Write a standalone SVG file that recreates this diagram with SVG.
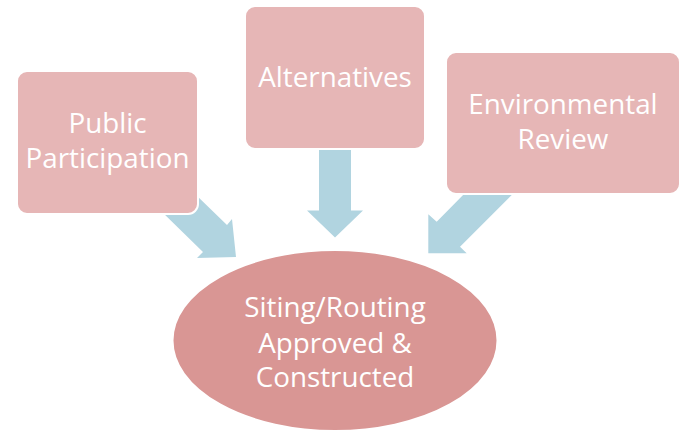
<svg xmlns="http://www.w3.org/2000/svg" width="682" height="437" viewBox="0 0 682 437">
  <style>
    .box { fill: #E6B6B6; stroke: #FFFFFF; stroke-width: 2; }
    .hub { fill: #D99694; stroke: #FFFFFF; stroke-width: 2; }
    .arrow { fill: #B1D4E0; }
    .label { font-family: "Open Sans", "Noto Sans", "Liberation Sans", sans-serif; font-size: 27.8px; fill: #FFFFFF; text-anchor: middle; }
  </style>
  <rect width="682" height="437" fill="#FFFFFF"/>

  <!-- block arrows pointing into the central ellipse -->
  <g id="connectors">
    <polygon class="arrow" points="160,210 203,252 197,258 236,257 232,219 227,225 195,194"/>
    <polygon class="arrow" points="319,150 351,150 351,210.5 363,210.5 335,237.5 307,210.5 319,210.5"/>
    <polygon class="arrow" points="468,190 436.7,221.7 428.3,214.3 428.3,253.3 466.7,253.3 460,246.7 516.7,190"/>
  </g>

  <g id="public-participation">
    <rect class="box" x="17" y="71" width="181" height="143" rx="10"/>
    <text class="label" x="107.5" y="133">Public</text>
    <text class="label" x="107.5" y="168">Participation</text>
  </g>

  <g id="alternatives">
    <rect class="box" x="245" y="6" width="180" height="143" rx="10"/>
    <text class="label" x="335" y="87">Alternatives</text>
  </g>

  <g id="environmental-review">
    <rect class="box" x="446" y="52" width="234" height="142" rx="10"/>
    <text class="label" x="563" y="114">Environmental</text>
    <text class="label" x="563" y="149">Review</text>
  </g>

  <g id="siting-routing">
    <ellipse class="hub" cx="335" cy="340.5" rx="162.5" ry="90.5"/>
    <text class="label" x="335" y="317">Siting/Routing</text>
    <text class="label" x="335" y="352.5">Approved &amp;</text>
    <text class="label" x="335" y="387">Constructed</text>
  </g>
</svg>
